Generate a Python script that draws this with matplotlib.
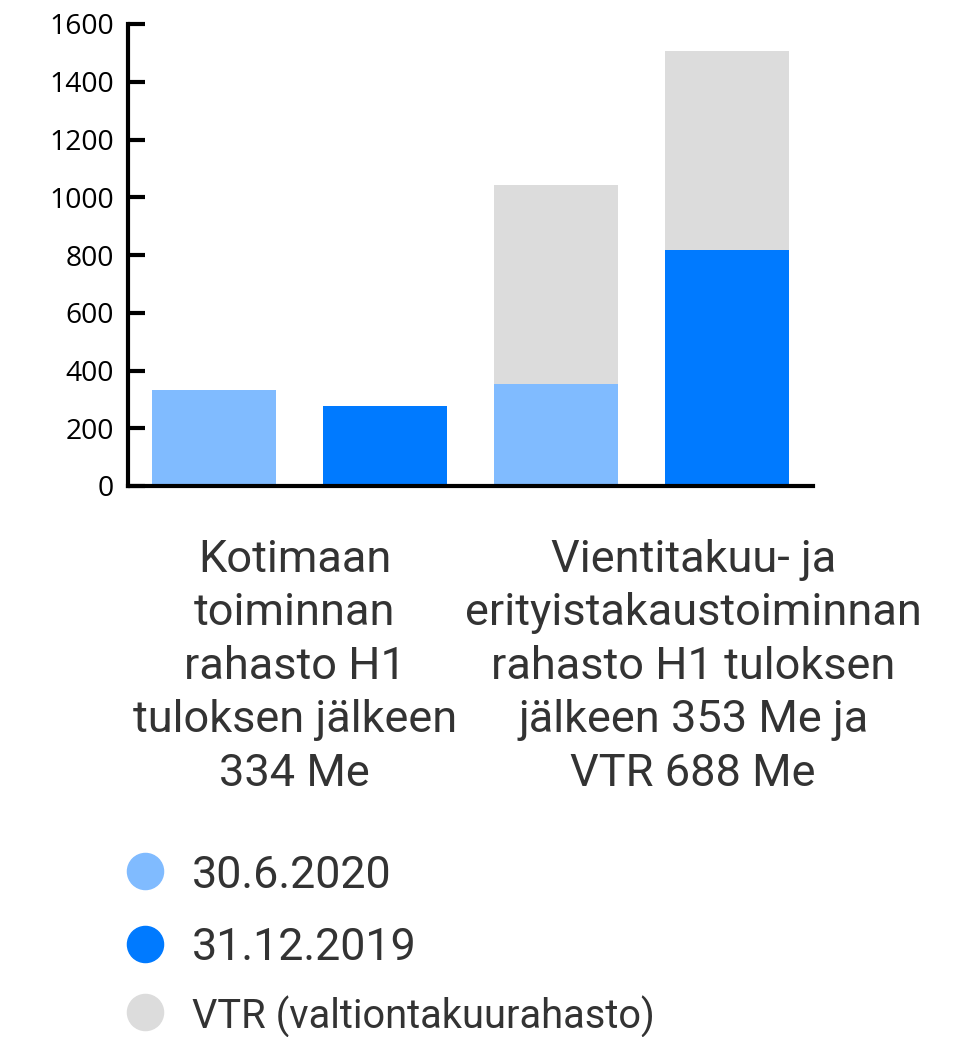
import matplotlib
matplotlib.use("Agg")
import matplotlib.pyplot as plt
from matplotlib.lines import Line2D
import matplotlib.transforms as mtransforms

# Data
bar_positions = [0, 1, 2, 3]
series_names = ["30.6.2020", "31.12.2019", "VTR (valtiontakuurahasto)"]
base_values = [334, 277, 353, 817]
base_colors = ["#80bbff", "#007aff", "#80bbff", "#007aff"]
vtr_values = [0, 0, 688, 688]
yticks = [0, 200, 400, 600, 800, 1000, 1200, 1400, 1600]
group_labels = [
    "Kotimaan\ntoiminnan\nrahasto H1\ntuloksen jälkeen\n334 Me",
    "Vientitakuu- ja\nerityistakaustoiminnan\nrahasto H1 tuloksen\njälkeen 353 Me ja\nVTR 688 Me",
]
group_label_x = [0.474, 2.80]

LIGHT = "#80bbff"
DARK = "#007aff"
GRAY = "#dcdcdc"
TEXT = "#333333"

W, H = 980, 1037
fig = plt.figure(figsize=(W / 100, H / 100), dpi=100)
ax = fig.add_axes([128 / W, 1 - 486 / H, (813 - 128) / W, (486 - 24) / H])

bw = 124 / 171.5
ax.bar(bar_positions, base_values, width=bw, color=base_colors, zorder=2)
ax.bar(bar_positions, vtr_values, bottom=base_values, width=bw, color=GRAY, zorder=2)

ax.set_xlim(-0.5, 3.5)
ax.set_ylim(0, 1600)
ax.set_yticks(yticks)
ax.set_yticklabels([str(t) for t in yticks], fontfamily="Open Sans", fontsize=20.3, color="black")
ax.tick_params(axis="y", direction="in", length=12, width=3, pad=10, colors="black")
ax.set_xticks([])
for s in ["top", "right"]:
    ax.spines[s].set_visible(False)
for s in ["left", "bottom"]:
    ax.spines[s].set_linewidth(3)
    ax.spines[s].set_color("black")
    ax.spines[s].set_zorder(3)

tr = mtransforms.blended_transform_factory(ax.transData, fig.transFigure)
for lab, x in zip(group_labels, group_label_x):
    ax.text(x, 1 - 539 / H, lab, transform=tr,
            ha="center", va="top", fontfamily="Roboto", fontsize=32.5, color=TEXT,
            linespacing=1.345)

# Legend
colors = [LIGHT, DARK, GRAY]
sizes = [32.3, 32.3, 28.7]
ys = [871, 944, 1012]
for name, c, fs, y in zip(series_names, colors, sizes, ys):
    fig.add_artist(Line2D([145 / W], [1 - y / H], marker="o", markersize=26,
                          color=c, linestyle="none", transform=fig.transFigure))
    fig.text(192 / W, 1 - y / H, name, ha="left", va="center_baseline",
             fontfamily="Roboto", fontsize=fs, color=TEXT)

fig.savefig("out.png", dpi=100)
